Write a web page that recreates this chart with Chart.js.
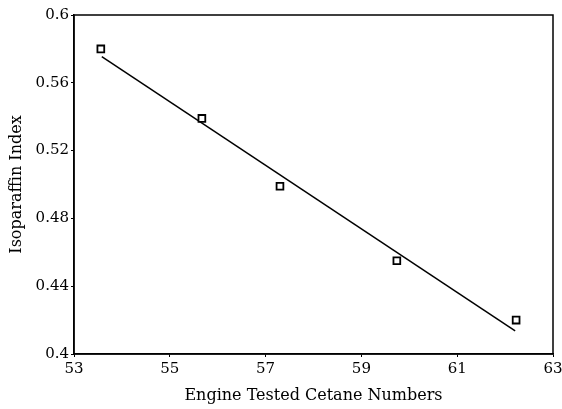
<!DOCTYPE html>
<html>
<head>
<meta charset="utf-8">
<script src="https://cdn.jsdelivr.net/npm/chart.js@4"></script>
<style>
  html, body { margin: 0; padding: 0; background: #fff; }
  #wrap { width: 562px; height: 409px; }
</style>
</head>
<body>
<div id="wrap"><canvas id="graph"></canvas></div>
<script>
// measured points
const cetane = [53.56, 55.67, 57.30, 59.74, 62.23];
const isoIndex = [0.580, 0.539, 0.499, 0.455, 0.420];

// regression line end points
const fitX = [53.58, 62.21];
const fitY = [0.5754, 0.4136];

const xTicks = [53, 55, 57, 59, 61, 63];
const yTicks = [0.4, 0.44, 0.48, 0.52, 0.56, 0.6];
const yTickLabels = ['0.4', '0.44', '0.48', '0.52', '0.56', '0.6'];

const serif = 'DejaVu Serif';

// draws the top and right sides of the frame
const frame = {
    id: 'frame',
    afterDraw(chart) {
        const { ctx, chartArea: a } = chart;
        ctx.save();
        ctx.strokeStyle = '#000';
        ctx.lineWidth = 1.5;
        ctx.strokeRect(a.left, a.top, a.right - a.left, a.bottom - a.top);
        ctx.restore();
    }
};

const config = {
    type: 'scatter',
    data: {
        datasets: [
            {
                label: 'Data',
                data: cetane.map((x, i) => ({ x: x, y: isoIndex[i] })),
                pointStyle: 'rect',
                pointRadius: 4.8,
                pointBorderWidth: 1.8,
                borderColor: '#000',
                backgroundColor: '#fff',
                showLine: false
            },
            {
                label: 'Fit',
                data: fitX.map((x, i) => ({ x: x, y: fitY[i] })),
                showLine: true,
                borderColor: '#000',
                borderWidth: 1.5,
                pointRadius: 0
            }
        ]
    },
    options: {
        responsive: true,
        maintainAspectRatio: false,
        animation: false,
        layout: {
            padding: { top: 15, right: 0, left: 0, bottom: 0 }
        },
        scales: {
            x: {
                type: 'linear',
                min: 53,
                max: 63,
                afterBuildTicks: axis => { axis.ticks = xTicks.map(v => ({ value: v })); },
                afterFit: axis => { axis.height = 55; axis.paddingRight = 9; },
                grid: { drawOnChartArea: false, tickLength: 3, color: '#000' },
                border: { color: '#000', width: 1.5 },
                ticks: { color: '#000', padding: 3, font: { family: serif, size: 15 }, maxRotation: 0 },
                title: {
                    display: true,
                    text: 'Engine Tested Cetane Numbers',
                    color: '#000',
                    font: { family: serif, size: 16 },
                    padding: { top: 0, bottom: 4 }
                }
            },
            y: {
                min: 0.4,
                max: 0.6,
                afterBuildTicks: axis => { axis.ticks = yTicks.map(v => ({ value: v })); },
                afterFit: axis => { axis.width = 74; },
                grid: { drawOnChartArea: false, tickLength: 3, color: '#000' },
                border: { color: '#000', width: 1.5 },
                ticks: {
                    color: '#000',
                    padding: 2,
                    font: { family: serif, size: 15 },
                    callback: (v, i) => yTickLabels[i]
                },
                title: {
                    display: true,
                    text: 'Isoparaffin Index',
                    color: '#000',
                    font: { family: serif, size: 16 },
                    padding: { top: 7, bottom: 0 }
                }
            }
        },
        plugins: {
            legend: { display: false },
            tooltip: { enabled: false }
        }
    },
    plugins: [frame]
};

const myChart = new Chart(document.getElementById('graph'), config);
</script>
</body>
</html>
